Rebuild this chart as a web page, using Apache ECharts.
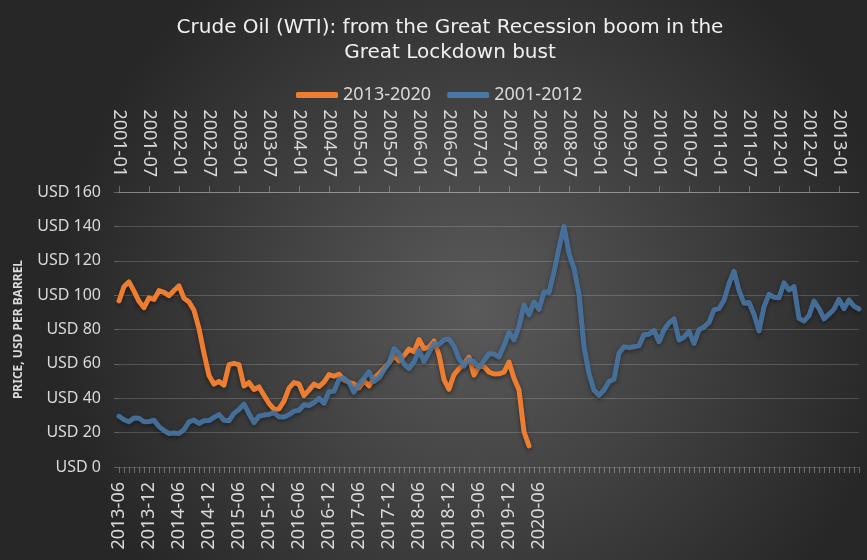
<!DOCTYPE html>
<html>
<head>
<meta charset="utf-8">
<script src="https://cdn.jsdelivr.net/npm/echarts@6/dist/echarts.min.js"></script>
<style>
  html, body { margin: 0; padding: 0; background: #fff; }
  #myChart { width: 867px; height: 560px; }
</style>
</head>
<body>
<div id="myChart"></div>
<script>
// month labels, one per data point
function months(y, m, n) {
  const out = []
  for (let i = 0; i < n; i++) {
    const k = m - 1 + i
    out.push((y + Math.floor(k / 12)) + '-' + String(k % 12 + 1).padStart(2, '0'))
  }
  return out
}

// top axis: 2001-01 .. 2013-05, bottom axis: 2013-06 onwards (labels stop at 2020-06)
const topMonths = months(2001, 1, 149)
const bottomMonths = months(2013, 6, 149)
const lastBottomLabel = 84 // 2020-06

// WTI, USD per barrel (end of month), 2001-01 .. 2013-05
const oil2001 = [
  29.5, 27.5, 26.3, 28.5, 28.4, 26.3, 26.4, 27.2, 23.5, 21.2, 19.5, 19.8,
  19.5, 21.7, 26.3, 27.3, 25.3, 26.9, 27.0, 28.9, 30.5, 27.2, 26.9, 31.2,
  33.5, 36.6, 31.0, 25.8, 29.6, 30.2, 30.6, 31.6, 29.2, 29.1, 30.4, 32.5,
  33.0, 36.2, 35.8, 37.4, 39.9, 37.1, 43.8, 44.0, 51.0, 51.8, 49.1, 43.5,
  48.2, 51.8, 55.4, 49.7, 51.9, 56.5, 60.6, 68.9, 66.2, 59.8, 57.3, 61.0,
  67.9, 61.4, 66.6, 71.9, 71.3, 73.9, 74.4, 70.3, 62.9, 58.7, 62.7, 61.1,
  58.1, 61.8, 65.9, 65.7, 64.0, 70.7, 78.2, 74.0, 81.7, 94.2, 88.6, 96.0,
  91.7, 101.8, 101.6, 113.5, 127.4, 140.0, 124.2, 115.5, 100.7, 70.0, 54.4, 44.6,
  41.7, 44.8, 49.7, 51.1, 66.3, 69.9, 69.5, 70.0, 70.6, 77.0, 77.2, 79.4,
  72.9, 79.7, 83.8, 86.2, 73.9, 75.6, 78.9, 71.9, 79.9, 81.4, 84.1, 91.4,
  92.2, 97.0, 106.7, 113.9, 102.7, 95.3, 95.7, 88.8, 79.2, 93.2, 100.4, 98.8,
  98.5, 107.1, 103.0, 104.9, 86.5, 84.9, 88.1, 96.5, 92.2, 86.2, 88.9, 91.8,
  97.5, 92.1, 97.2, 93.5, 91.9
]

// WTI, USD per barrel (end of month), 2013-06 .. 2020-04
const oil2013 = [
  96.6, 105.0, 107.7, 102.3, 96.4, 92.7, 98.4,
  97.5, 102.6, 101.6, 99.7, 102.7, 105.4, 98.2, 96.0, 91.2, 80.5, 66.2, 53.3,
  48.2, 49.8, 47.6, 59.6, 60.3, 59.5, 47.1, 49.2, 45.1, 46.6, 41.7, 37.0,
  33.6, 33.8, 38.3, 45.9, 49.1, 48.3, 41.5, 44.7, 48.2, 46.8, 49.4, 53.8,
  52.8, 54.0, 50.5, 49.3, 48.3, 46.0, 50.2, 47.2, 51.6, 54.4, 57.4, 60.5,
  64.8, 61.6, 64.9, 68.6, 67.0, 74.2, 68.8, 69.8, 73.3, 65.3, 50.9, 45.2,
  53.8, 57.2, 60.1, 63.9, 53.5, 58.5, 58.6, 55.2, 54.1, 54.2, 55.2, 61.1,
  51.6, 44.8, 20.5, 12.3
]

const yTicks = { min: 0, max: 160, step: 20 }

const labelColor = '#d9d9d9'
const gridColor = 'rgba(255,255,255,0.17)'
const font = 'Noto Sans'

const myChart = echarts.init(document.getElementById('myChart'))
myChart.setOption({
  backgroundColor: {
    type: 'radial',
    x: 0.55,
    y: 0.55,
    r: 0.75,
    colorStops: [
      { offset: 0, color: '#5a5a5a' },
      { offset: 1, color: '#272727' }
    ]
  },
  textStyle: { fontFamily: font },
  title: {
    text: 'Crude Oil (WTI): from the Great Recession boom in the\nGreat Lockdown bust',
    left: 450,
    textAlign: 'center',
    top: 15,
    padding: 0,
    textStyle: {
      fontFamily: 'DejaVu Sans',
      fontSize: 20,
      fontWeight: 'normal',
      lineHeight: 25,
      color: '#f0f0f0'
    }
  },
  legend: {
    data: ['2013-2020', '2001-2012'],
    left: 296,
    top: 86,
    padding: 0,
    itemWidth: 42,
    itemHeight: 6,
    itemGap: 16,
    icon: 'roundRect',
    textStyle: { color: labelColor, fontSize: 18, fontFamily: font }
  },
  grid: {
    left: 119,
    right: 8,
    top: 192,
    bottom: 93,
    containLabel: false
  },
  xAxis: [
    {
      type: 'category',
      position: 'bottom',
      boundaryGap: false,
      data: bottomMonths,
      axisLine: { show: false },
      axisTick: {
        show: true,
        interval: 0,
        length: 6,
        lineStyle: { color: 'rgba(255,255,255,0.3)' }
      },
      axisLabel: {
        interval: (i) => i % 6 === 0 && i <= lastBottomLabel,
        rotate: 90,
        margin: 15,
        color: labelColor,
        fontSize: 18
      },
      splitLine: { show: false }
    },
    {
      type: 'category',
      position: 'top',
      boundaryGap: false,
      data: topMonths,
      axisLine: { show: true, lineStyle: { color: 'rgba(255,255,255,0.3)', width: 1 } },
      axisTick: {
        show: true,
        interval: 5,
        length: 6,
        lineStyle: { color: 'rgba(255,255,255,0.3)' }
      },
      axisLabel: {
        interval: 5,
        rotate: 90,
        margin: 15,
        color: labelColor,
        fontSize: 18
      },
      splitLine: { show: false }
    }
  ],
  yAxis: {
    type: 'value',
    min: yTicks.min,
    max: yTicks.max,
    interval: yTicks.step,
    name: 'PRICE, USD PER BARREL',
    nameLocation: 'middle',
    nameGap: 94,
    nameTextStyle: { color: labelColor, fontSize: 12, fontWeight: 'bold' },
    axisLine: { show: false },
    axisTick: { show: true, length: 5, lineStyle: { color: 'rgba(255,255,255,0.25)' } },
    axisLabel: {
      formatter: 'USD {value}',
      margin: 18,
      color: labelColor,
      fontSize: 16
    },
    splitLine: { lineStyle: { color: gridColor, width: 1 } }
  },
  series: [
    {
      name: '2013-2020',
      type: 'line',
      xAxisIndex: 0,
      data: oil2013,
      showSymbol: false,
      color: '#ED7D31',
      lineStyle: {
        width: 5,
        cap: 'round',
        join: 'round',
        shadowColor: 'rgba(0,0,0,0.45)',
        shadowBlur: 4,
        shadowOffsetY: 2
      }
    },
    {
      name: '2001-2012',
      type: 'line',
      xAxisIndex: 1,
      data: oil2001,
      showSymbol: false,
      color: '#4878A6',
      lineStyle: {
        width: 5,
        cap: 'round',
        join: 'round',
        opacity: 0.88,
        shadowColor: 'rgba(0,0,0,0.45)',
        shadowBlur: 4,
        shadowOffsetY: 2
      }
    }
  ]
})
</script>
</body>
</html>
